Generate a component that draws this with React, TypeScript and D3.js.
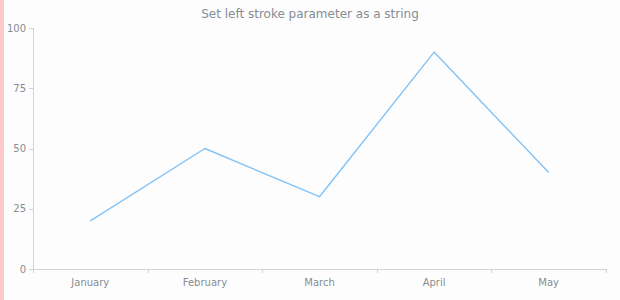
import React from "react";
import * as d3 from "d3";

const categories = ["January", "February", "March", "April", "May"];
const values = [20, 50, 30, 90, 40];
const yTicks = [0, 25, 50, 75, 100];
const title = "Set left stroke parameter as a string";

const W = 620;
const H = 300;
const M = { left: 33, right: 14, top: 28, bottom: 31 };
const FONT = "'DejaVu Sans', Verdana, sans-serif";

export default function App() {
  const x = d3
    .scaleBand<string>()
    .domain(categories)
    .range([M.left, W - M.right])
    .paddingInner(0)
    .paddingOuter(0);
  const y = d3.scaleLinear().domain([0, 100]).range([H - M.bottom, M.top]);
  const line = d3
    .line<number>()
    .x((_, i) => (x(categories[i]) as number) + x.bandwidth() / 2)
    .y((d) => y(d));
  const bounds = [...categories.map((c) => x(c) as number), W - M.right];
  const axisColor = "#d2d2d2";
  const textColor = "#858d94";
  return (
    <svg
      width={W}
      height={H}
      style={{ position: "fixed", left: 0, top: 0, display: "block" }}
    >
      <rect x={0} y={0} width={W} height={H} fill="#fefdfd" />
      <line x1={2} x2={2} y1={0} y2={H} stroke="#ffc9c9" strokeWidth={4} />
      <text
        x={W / 2}
        y={14}
        textAnchor="middle"
        dominantBaseline="central"
        fontFamily={FONT}
        fontSize={12}
        fill={textColor}
      >
        {title}
      </text>
      <line x1={M.left + 0.5} x2={M.left + 0.5} y1={y(100)} y2={y(0)} stroke={axisColor} />
      {yTicks.map((t) => (
        <g key={t}>
          <line
            x1={M.left - 4}
            x2={M.left}
            y1={Math.round(y(t)) + 0.5}
            y2={Math.round(y(t)) + 0.5}
            stroke={axisColor}
          />
          <text
            x={M.left - 7}
            y={y(t)}
            textAnchor="end"
            dominantBaseline="central"
            fontFamily={FONT}
            fontSize={10}
            fill={textColor}
          >
            {t}
          </text>
        </g>
      ))}
      <line
        x1={M.left}
        x2={W - M.right}
        y1={Math.round(y(0)) + 0.5}
        y2={Math.round(y(0)) + 0.5}
        stroke={axisColor}
      />
      {bounds.map((b, i) => (
        <line
          key={i}
          x1={Math.round(b) + 0.5}
          x2={Math.round(b) + 0.5}
          y1={y(0)}
          y2={y(0) + 4}
          stroke={axisColor}
        />
      ))}
      {categories.map((c) => (
        <text
          key={c}
          x={(x(c) as number) + x.bandwidth() / 2}
          y={y(0) + 13}
          textAnchor="middle"
          dominantBaseline="central"
          fontFamily={FONT}
          fontSize={10}
          fill={textColor}
        >
          {c}
        </text>
      ))}
      <path
        d={line(values) || ""}
        fill="none"
        stroke="#82c3f7"
        strokeWidth={1.4}
        strokeLinejoin="round"
      />
    </svg>
  );
}
